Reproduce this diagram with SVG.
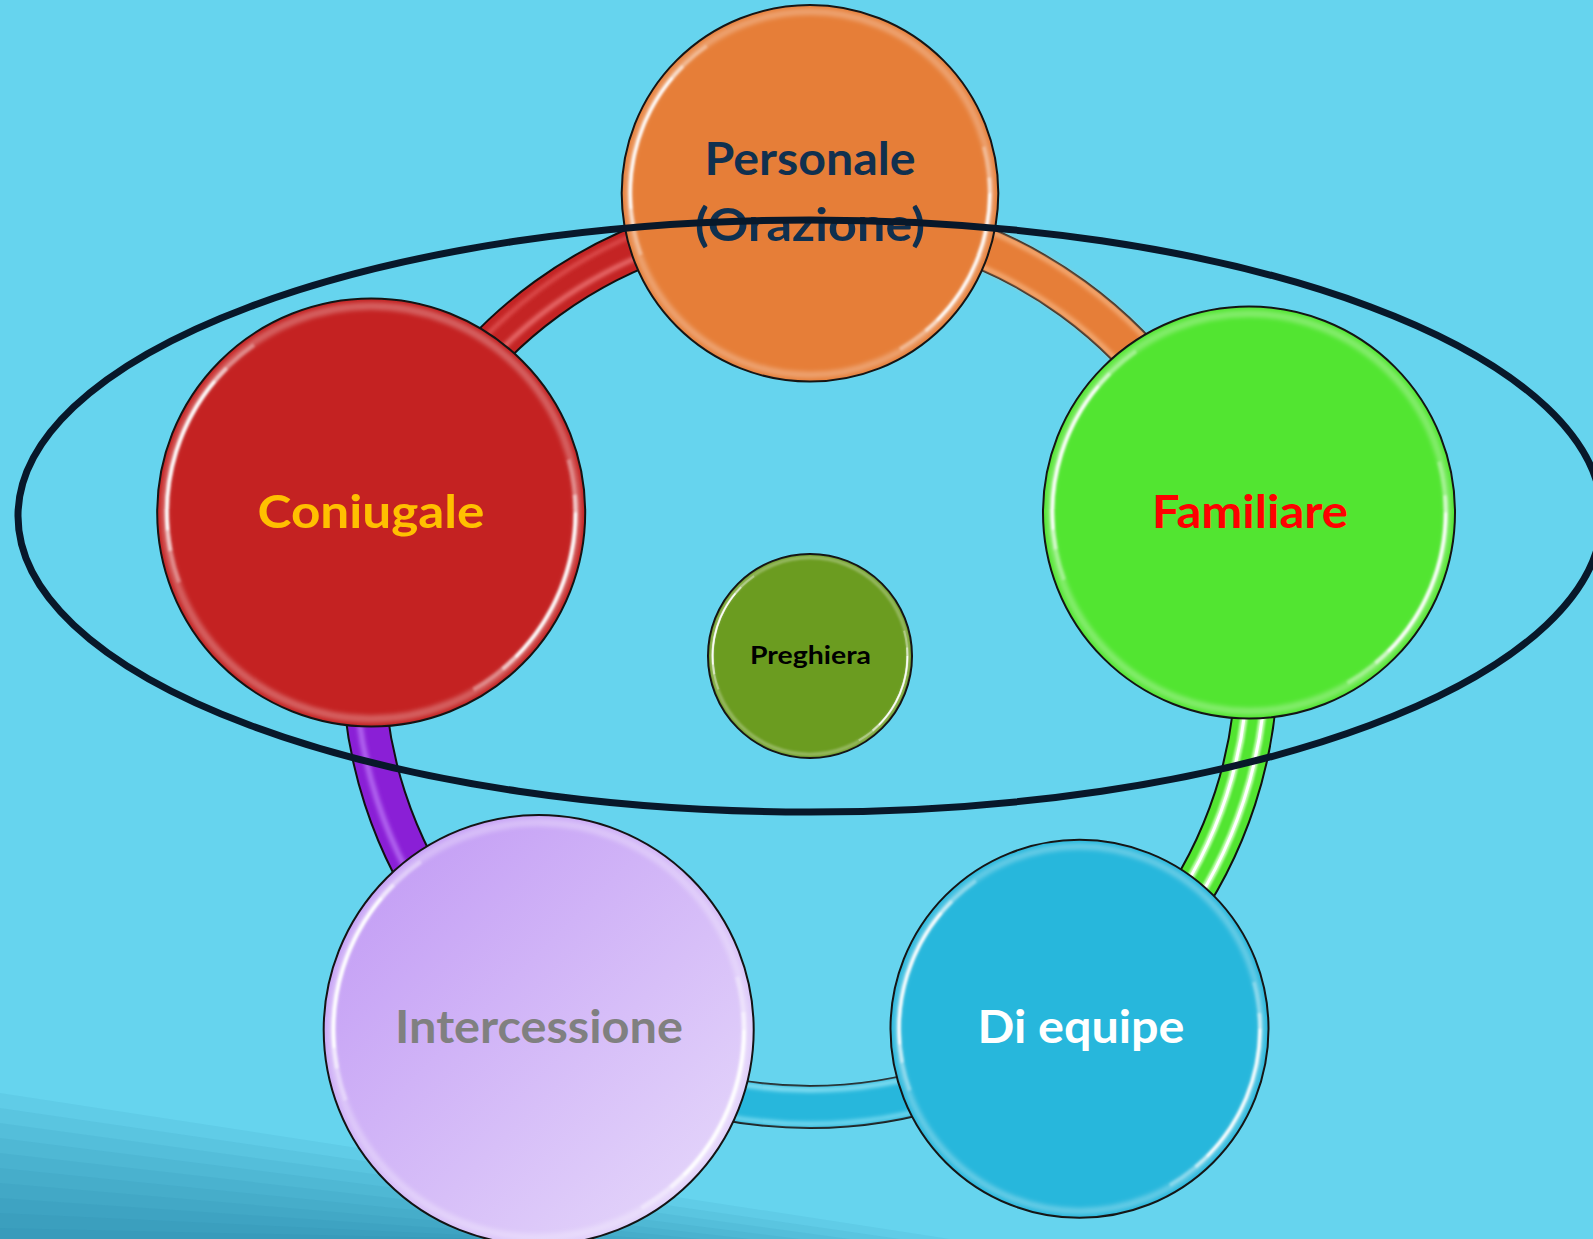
<svg xmlns="http://www.w3.org/2000/svg" xmlns:xlink="http://www.w3.org/1999/xlink" width="1593" height="1239" viewBox="0 0 1593 1239">
<style>
.lbl{font-family:"Lato","Liberation Sans","DejaVu Sans",sans-serif;font-weight:700;text-anchor:middle;}
.big{font-size:46px;}
.outline{stroke:#111;stroke-width:2;}
.bandedge{fill:none;stroke:#111;stroke-width:44;}
.band{fill:none;stroke-width:40;}
.hl{fill:none;filter:url(#b2);}
.swoosh{fill:#1B6E9E;fill-opacity:0.08;}
.gl{fill:none;stroke:#fff;stroke-linecap:butt;}
</style>
<defs>
<filter id="b1" x="-20%" y="-20%" width="140%" height="140%"><feGaussianBlur stdDeviation="1"/></filter>
<filter id="b2" x="-20%" y="-20%" width="140%" height="140%"><feGaussianBlur stdDeviation="2"/></filter>
<linearGradient id="lav" x1="0" y1="0" x2="1" y2="1">
<stop offset="0" stop-color="#BF96F4"/>
<stop offset="1" stop-color="#E8DCFB"/>
</linearGradient>
<g id="gloss">
<circle r="193" fill="none" stroke="#fff" stroke-opacity="0.28" stroke-width="7" filter="url(#b2)"/>
<g filter="url(#b1)">
<path class="gl" d="M-179.5,65.3 A191,191 0 0 1 -109.6,-156.5" stroke-opacity="0.3" stroke-width="4"/>
<path class="gl" d="M-187.6,35.8 A191,191 0 0 1 -135.1,-135.1" stroke-opacity="0.5" stroke-width="4"/>
<path class="gl" d="M-190.3,16.6 A191,191 0 0 1 -146.3,-122.8" stroke-opacity="0.9" stroke-width="3"/>
<path class="gl" d="M184.5,-49.4 A191,191 0 0 1 95.5,165.4" stroke-opacity="0.3" stroke-width="4"/>
<path class="gl" d="M190.3,-16.6 A191,191 0 0 1 122.8,146.3" stroke-opacity="0.5" stroke-width="4"/>
<path class="gl" d="M191,0 A191,191 0 0 1 135.1,135.1" stroke-opacity="0.9" stroke-width="3"/>
</g>
</g>
<path id="arcO" d="M810,213 A447,447 0 0 1 1235.12,521.87"/>
<path id="arcG" d="M1235.12,521.87 A447,447 0 0 1 1072.74,1021.63"/>
<path id="arcC" d="M1072.74,1021.63 A447,447 0 0 1 547.26,1021.63"/>
<path id="arcP" d="M547.26,1021.63 A447,447 0 0 1 384.88,521.87"/>
<path id="arcR" d="M384.88,521.87 A447,447 0 0 1 810,213"/>
</defs>

<rect x="0" y="0" width="1593" height="1239" fill="#66D4EE"/>
<g id="background-swoosh">
<path class="swoosh" d="M0,1093 L950,1239 L0,1239 Z"/>
<path class="swoosh" d="M0,1108 L900,1239 L0,1239 Z"/>
<path class="swoosh" d="M0,1123 L850,1239 L0,1239 Z"/>
<path class="swoosh" d="M0,1138 L800,1239 L0,1239 Z"/>
<path class="swoosh" d="M0,1153 L750,1239 L0,1239 Z"/>
<path class="swoosh" d="M0,1168 L700,1239 L0,1239 Z"/>
<path class="swoosh" d="M0,1183 L650,1239 L0,1239 Z"/>
<path class="swoosh" d="M0,1198 L600,1239 L0,1239 Z"/>
<path class="swoosh" d="M0,1213 L550,1239 L0,1239 Z"/>
<path class="swoosh" d="M0,1228 L500,1239 L0,1239 Z"/>
</g>

<g id="connectors">
<g id="conn-personale-familiare">
<use xlink:href="#arcO" class="bandedge"/>
<use xlink:href="#arcO" class="band" stroke="#E67E38"/>
<path class="hl" d="M810,231 A429,429 0 0 1 1218,527.43" stroke="#F6B27F" stroke-width="4"/>
<path class="hl" d="M810,195 A465,465 0 0 1 1252.24,516.31" stroke="#F6B27F" stroke-width="4"/>
</g>
<g id="conn-familiare-equipe">
<use xlink:href="#arcG" class="bandedge"/>
<use xlink:href="#arcG" class="band" stroke="#52E531"/>
<path d="M1226.56,524.65 A438,438 0 0 1 1067.45,1014.35" fill="none" stroke="#C8FFB8" stroke-width="7" filter="url(#b1)"/>
<path d="M1243.68,519.09 A456,456 0 0 1 1078.03,1028.91" fill="none" stroke="#C8FFB8" stroke-width="7" filter="url(#b1)"/>
<path d="M1226.56,524.65 A438,438 0 0 1 1067.45,1014.35" fill="none" stroke="#fff" stroke-width="3"/>
<path d="M1243.68,519.09 A456,456 0 0 1 1078.03,1028.91" fill="none" stroke="#fff" stroke-width="3"/>
</g>
<g id="conn-equipe-intercessione">
<use xlink:href="#arcC" class="bandedge"/>
<use xlink:href="#arcC" class="band" stroke="#27B7DC"/>
<path class="hl" d="M1062.75,1007.88 A430,430 0 0 1 557.25,1007.88" stroke="#9BE8F8" stroke-width="4"/>
<path class="hl" d="M1082.73,1035.38 A464,464 0 0 1 537.27,1035.38" stroke="#9BE8F8" stroke-width="3"/>
</g>
<g id="conn-intercessione-coniugale">
<use xlink:href="#arcP" class="bandedge"/>
<use xlink:href="#arcP" class="band" stroke="#8A1FD6"/>
<path class="hl" d="M542.56,1028.1 A455,455 0 0 1 377.27,519.4" stroke="#B56CF2" stroke-width="5"/>
</g>
<g id="conn-coniugale-personale">
<use xlink:href="#arcR" class="bandedge"/>
<use xlink:href="#arcR" class="band" stroke="#C42424"/>
<path class="hl" d="M393.44,524.65 A438,438 0 0 1 810,222" stroke="#F07A7A" stroke-width="4"/>
<path class="hl" d="M375.4,519 A464,464 0 0 1 810,197" stroke="#E86060" stroke-width="3"/>
</g>
</g>

<g id="node-personale">
<circle cx="810" cy="193.3" r="188.3" fill="#E67E38" class="outline"/>
<use xlink:href="#gloss" transform="translate(810,193.3) scale(0.9415)"/>
<text class="lbl big" x="810" y="175" fill="#10304F" textLength="211" lengthAdjust="spacingAndGlyphs">Personale</text>
<text class="lbl big" x="810" y="241" fill="#10304F" textLength="230" lengthAdjust="spacingAndGlyphs">(Orazione)</text>
</g>

<g id="node-coniugale">
<circle cx="371.2" cy="512.5" r="214" fill="#C42222" class="outline"/>
<use xlink:href="#gloss" transform="translate(371.2,512.5) scale(1.07)"/>
<text class="lbl big" x="371" y="528" fill="#FFC000" textLength="227" lengthAdjust="spacingAndGlyphs">Coniugale</text>
</g>

<g id="node-familiare">
<circle cx="1249" cy="512.5" r="206" fill="#52E531" class="outline"/>
<use xlink:href="#gloss" transform="translate(1249,512.5) scale(1.03)"/>
<text class="lbl big" x="1250" y="528" fill="#FF0000" textLength="196" lengthAdjust="spacingAndGlyphs">Familiare</text>
</g>

<g id="node-equipe">
<circle cx="1079.5" cy="1028.8" r="189" fill="#27B7DC" class="outline"/>
<use xlink:href="#gloss" transform="translate(1079.5,1028.8) scale(0.945)"/>
<text class="lbl big" x="1081" y="1043" fill="#FFFFFF" textLength="207" lengthAdjust="spacingAndGlyphs">Di equipe</text>
</g>

<g id="node-intercessione">
<circle cx="538.7" cy="1030" r="215" fill="url(#lav)" class="outline"/>
<use xlink:href="#gloss" transform="translate(538.7,1030) scale(1.075)"/>
<text class="lbl big" x="539" y="1043" fill="#808080" textLength="288" lengthAdjust="spacingAndGlyphs">Intercessione</text>
</g>

<g id="node-preghiera">
<circle cx="810" cy="656" r="102" fill="#6B9C20" class="outline"/>
<use xlink:href="#gloss" transform="translate(810,656) scale(0.51)"/>
<text class="lbl" x="810.5" y="664" font-size="25" fill="#000000" textLength="121" lengthAdjust="spacingAndGlyphs">Preghiera</text>
</g>

<g id="ellipse-overlay">
<ellipse cx="810" cy="516" rx="792" ry="296" fill="none" stroke="#08182A" stroke-width="7"/>
</g>
</svg>
